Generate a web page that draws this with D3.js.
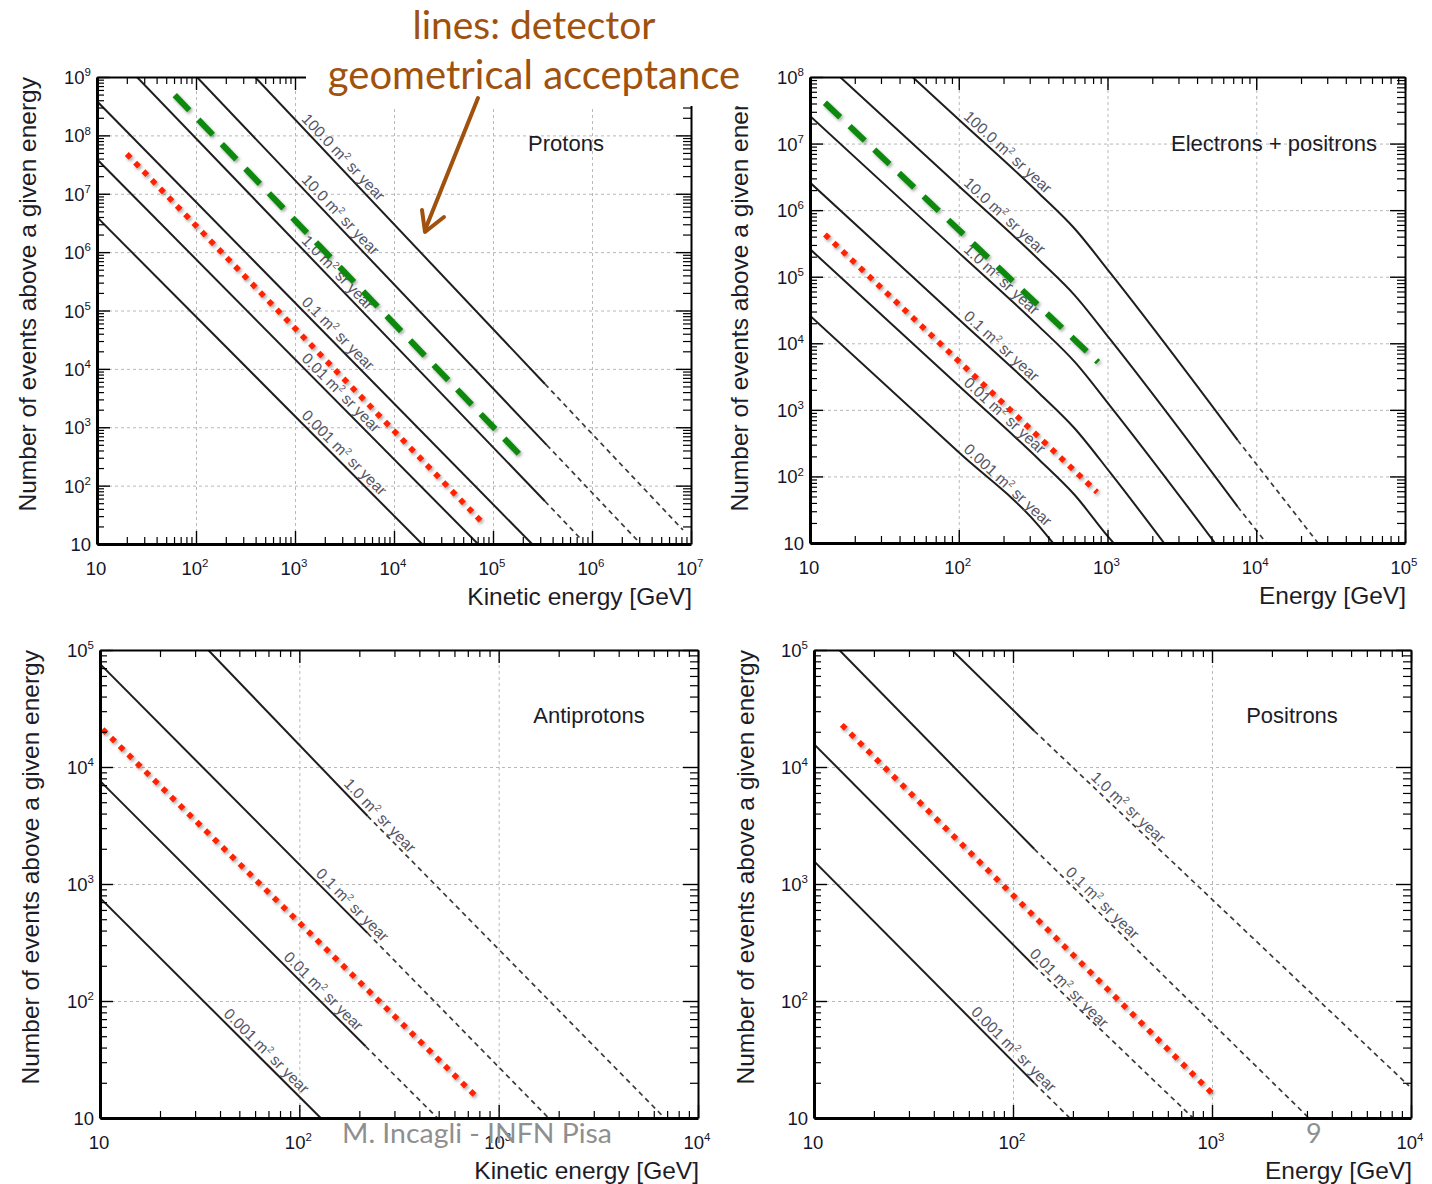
<!DOCTYPE html>
<html><head><meta charset="utf-8">
<script src="https://cdn.jsdelivr.net/npm/d3@7"></script>
<style>
body{margin:0;background:#fff;}
svg{display:block;font-family:"Liberation Sans",Arial,Helvetica,sans-serif;}
</style></head><body>
<svg id="c" width="1432" height="1184"></svg>
<script>
// ---------------- DATA ----------------
const labels6 = ["100.0","10.0","1.0","0.1","0.01","0.001"];
const labels4 = ["1.0","0.1","0.01","0.001"];

// Protons: [E (GeV), N] points per acceptance line
const protonLines = [
  [[394,1e9],[3.35e5,5.5e3],[8.3e6,17.4]],
  [[102,1e9],[3.5e5,495],[2.85e6,11.7]],
  [[25.3,1e9],[3.35e5,54],[7.9e5,11.7]],
  [[10,3.85e8],[2.48e5,10]],
  [[10,3.9e7],[7.05e4,10]],
  [[10,3.97e6],[1.92e4,10]]
];
const protonSolidEnd = [3.35e5,3.5e5,3.35e5,1e9,1e9,1e9];
const protonLabelE = [1070,1070,1070,1070,1070,1070];
const protonGreen = [[61,4.9e8],[2.1e5,274]];
const protonRed = [[20,4.8e7],[7.9e4,22.9]];

// Electrons + positrons
const electronLines = [
  [[10,2.6e9],[100,2.3e7],[350,1.75e6],[600,5.3e5],[1040,1.15e5],[7500,350],[2.6e4,10]],
  [[10,2.6e8],[100,2.3e6],[350,1.75e5],[600,5.3e4],[1040,1.15e4],[7500,35],[1.17e4,10]],
  [[10,2.6e7],[100,2.3e5],[350,1.75e4],[600,5.3e3],[1040,1.15e3],[5.28e3,10]],
  [[10,2.6e6],[100,2.3e4],[350,1.75e3],[600,530],[1040,115],[2.4e3,10]],
  [[10,2.6e5],[100,2.3e3],[350,175],[600,53],[1040,11.5],[1.1e3,10]],
  [[10,2.6e4],[100,230],[350,17.5],[430,10]]
];
const electronSolidEnd = [7500,7500,1e9,1e9,1e9,1e9];
const electronLabelE = [102,102,102,102,102,102];
const electronGreen = [[12.6,4.1e7],[865,5.2e3]];
const electronRed = [[12.6,4.3e5],[851,58]];

// Antiprotons
const antiprotonLines = [
  [[34.9,1e5],[220,3.81e3],[6.8e3,10]],
  [[10,7.6e4],[220,380],[1.78e3,10]],
  [[10,7.6e3],[215,41],[493,10]],
  [[10,760],[128,10]]
];
const antiprotonSolidEnd = [220,220,215,1e9];
const antiprotonLabelE = [160,116,80,40];
const antiprotonRed = [[10.3,2.1e4],[795,14.5]];

// Positrons
const positronLines = [
  [[49.3,1e5],[128,2.03e4],[9.77e3,18.8]],
  [[13.4,1e5],[128,1.99e3],[3.07e3,10]],
  [[10,1.57e4],[128,199],[803,10]],
  [[10,1.57e3],[128,19.9],[193,10]]
];
const positronSolidEnd = [128,128,128,128];
const positronLabelE = [236,176,116,59];
const positronRed = [[13.8,2.29e4],[1011,16]];

const titles = ["Protons","Electrons + positrons","Antiprotons","Positrons"];
const xTitles = ["Kinetic energy [GeV]","Energy [GeV]","Kinetic energy [GeV]","Energy [GeV]"];
const yTitle = "Number of events above a given energy";
const noteLines = ["lines: detector","geometrical acceptance"];
const footer = "M. Incagli - INFN Pisa";
const pageNo = "9";

// ---------------- DRAWING ----------------
const svg = d3.select("#c");
const defs = svg.append("defs");
const f = defs.append("filter").attr("id","sh").attr("x","-20%").attr("y","-20%").attr("width","140%").attr("height","140%");
f.append("feDropShadow").attr("dx",1.5).attr("dy",2).attr("stdDeviation",1.6).attr("flood-color","#000").attr("flood-opacity",0.35);

function majorVals(dom){const o=[];for(let e=Math.round(Math.log10(dom[0]));e<=Math.round(Math.log10(dom[1]));e++)o.push(Math.pow(10,e));return o;}
function minorVals(dom){const o=[];for(let e=Math.round(Math.log10(dom[0]));e<Math.round(Math.log10(dom[1]));e++)for(let k=2;k<=9;k++)o.push(k*Math.pow(10,e));return o;}

function powLabel(sel, v, fs){
  const e = Math.round(Math.log10(v));
  if(e===1){ sel.append("tspan").text("10"); return; }
  sel.append("tspan").text("10");
  sel.append("tspan").attr("dy",-fs*0.42).attr("font-size",fs*0.62).text(e);
}

function drawPanel(p, d){
  const x = d3.scaleLog().domain(p.xDom).range([p.l,p.r]);
  const y = d3.scaleLog().domain(p.yDom).range([p.b,p.t]);
  const w = p.r-p.l, h = p.b-p.t;
  const g = svg.append("g");
  const xMaj = majorVals(p.xDom), yMaj = majorVals(p.yDom);

  // grid
  g.append("g").attr("transform",`translate(0,${p.b})`)
    .call(d3.axisBottom(x).tickValues(xMaj.slice(1,-1)).tickSize(-h).tickFormat(""))
    .call(s=>{s.select(".domain").remove();s.selectAll("line").attr("stroke","#b8b8b8").attr("stroke-dasharray","3,3");});
  g.append("g").attr("transform",`translate(${p.l},0)`)
    .call(d3.axisLeft(y).tickValues(yMaj.slice(1,-1)).tickSize(-w).tickFormat(""))
    .call(s=>{s.select(".domain").remove();s.selectAll("line").attr("stroke","#b8b8b8").attr("stroke-dasharray","3,3");});

  // curves
  const cid = "clip"+p.id;
  defs.append("clipPath").attr("id",cid).append("rect").attr("x",p.l).attr("y",p.t).attr("width",w).attr("height",h);
  const lg = g.append("g").attr("clip-path",`url(#${cid})`);
  const line = d3.line().x(v=>x(v[0])).y(v=>y(v[1])).curve(d.curve||d3.curveLinear);
  d.lines.forEach((pts,i)=>{
    const se = d.solidEnd[i];
    const solid = pts.filter(v=>v[0]<=se*1.0001);
    const dashed = pts.filter(v=>v[0]>=se*0.9999);
    lg.append("path").attr("d",line(solid)).attr("fill","none").attr("stroke","#1e1e1e").attr("stroke-width",2);
    if(dashed.length>1) lg.append("path").attr("d",line(dashed)).attr("fill","none").attr("stroke","#3a3a3a").attr("stroke-width",1.7).attr("stroke-dasharray","5,4");
  });

  // labels on curves
  d.labels.forEach((lab,i)=>{
    const pts=d.lines[i], E=d.labelE[i];
    let j=0; while(j<pts.length-2 && pts[j+1][0]<E) j++;
    const a=pts[j], b=pts[j+1];
    const t=(Math.log(E)-Math.log(a[0]))/(Math.log(b[0])-Math.log(a[0]));
    const N=Math.exp(Math.log(a[1])+t*(Math.log(b[1])-Math.log(a[1])));
    const ang=Math.atan2(y(b[1])-y(a[1]), x(b[0])-x(a[0]))*180/Math.PI;
    const tx=g.append("text").attr("transform",`translate(${x(E)},${y(N)}) rotate(${ang})`)
      .attr("font-size",15.5).attr("fill","#555566");
    tx.append("tspan").attr("dy",-4).text(lab+" m");
    tx.append("tspan").attr("dy",-6).attr("font-size",9.5).text("2");
    tx.append("tspan").attr("dy",6).text(" sr year");
  });

  // highlight lines
  const hl = g.append("g").attr("clip-path",`url(#${cid})`);
  if(d.green) hl.append("path").attr("d",d3.line().x(v=>x(v[0])).y(v=>y(v[1]))(d.green))
    .attr("fill","none").attr("stroke","#108a10").attr("stroke-width",6).attr("stroke-dasharray","21,13").attr("filter","url(#sh)");
  if(d.red) hl.append("path").attr("d",d3.line().x(v=>x(v[0])).y(v=>y(v[1]))(d.red))
    .attr("fill","none").attr("stroke","#ff2200").attr("stroke-width",5.5).attr("stroke-dasharray","5.5,6.5").attr("filter","url(#sh)");

  // frame axes
  const xMin = minorVals(p.xDom), yMin = minorVals(p.yDom);
  const styl=(s,wd)=>{s.select(".domain").attr("stroke","#000").attr("stroke-width",wd);s.selectAll(".tick line").attr("stroke","#000").attr("stroke-width",1.4);};
  const noDom=s=>{s.select(".domain").remove();s.selectAll(".tick line").attr("stroke","#000").attr("stroke-width",1.2);};
  g.append("g").attr("transform",`translate(0,${p.b})`).call(d3.axisBottom(x).tickValues(xMaj).tickSizeInner(-13).tickSizeOuter(0).tickFormat("")).call(s=>styl(s,3));
  g.append("g").attr("transform",`translate(0,${p.b})`).call(d3.axisBottom(x).tickValues(xMin).tickSizeInner(-7).tickSizeOuter(0).tickFormat("")).call(noDom);
  g.append("g").attr("transform",`translate(0,${p.t})`).call(d3.axisTop(x).tickValues(xMaj).tickSizeInner(-13).tickSizeOuter(0).tickFormat("")).call(s=>styl(s,2));
  g.append("g").attr("transform",`translate(0,${p.t})`).call(d3.axisTop(x).tickValues(xMin).tickSizeInner(-7).tickSizeOuter(0).tickFormat("")).call(noDom);
  g.append("g").attr("transform",`translate(${p.l},0)`).call(d3.axisLeft(y).tickValues(yMaj).tickSizeInner(-13).tickSizeOuter(0).tickFormat("")).call(s=>styl(s,3));
  g.append("g").attr("transform",`translate(${p.l},0)`).call(d3.axisLeft(y).tickValues(yMin).tickSizeInner(-7).tickSizeOuter(0).tickFormat("")).call(noDom);
  g.append("g").attr("transform",`translate(${p.r},0)`).call(d3.axisRight(y).tickValues(yMaj).tickSizeInner(-15).tickSizeOuter(0).tickFormat("")).call(s=>styl(s,2));
  g.append("g").attr("transform",`translate(${p.r},0)`).call(d3.axisRight(y).tickValues(yMin).tickSizeInner(-8).tickSizeOuter(0).tickFormat("")).call(noDom);

  // tick labels
  const fs=18.5;
  xMaj.forEach(v=>{
    const t=g.append("text").attr("x",x(v)-1).attr("y",p.b+31).attr("text-anchor","middle").attr("font-size",fs).attr("fill","#14142a");
    powLabel(t,v,fs);
  });
  yMaj.forEach(v=>{
    const t=g.append("text").attr("x",p.l-6).attr("y",y(v)+7).attr("text-anchor","end").attr("font-size",fs).attr("fill","#14142a");
    powLabel(t,v,fs);
  });

  // titles
  g.append("text").attr("x",p.titleX).attr("y",p.titleY).attr("text-anchor",p.titleAnchor).attr("font-size",22).attr("fill","#1c1c28").text(p.title);
  g.append("text").attr("x",p.r+1).attr("y",p.b+61).attr("text-anchor","end").attr("font-size",24.5).attr("fill","#1c1c28").text(p.xTitle);
  g.append("text").attr("transform",`translate(${p.yTitleX},${p.t}) rotate(-90)`).attr("dy","0.35em").attr("text-anchor","end").attr("font-size",24.5).attr("fill","#1c1c28").text(yTitle);
}

drawPanel({id:1,l:97,r:691,t:77,b:544,xDom:[10,1e7],yDom:[10,1e9],title:titles[0],titleX:566,titleY:151,titleAnchor:"middle",xTitle:xTitles[0],yTitleX:27},
  {lines:protonLines,solidEnd:protonSolidEnd,labelE:protonLabelE,labels:labels6,green:protonGreen,red:protonRed});
drawPanel({id:2,l:810,r:1405,t:77,b:543,xDom:[10,1e5],yDom:[10,1e8],title:titles[1],titleX:1377,titleY:151,titleAnchor:"end",xTitle:xTitles[1],yTitleX:739},
  {lines:electronLines,solidEnd:electronSolidEnd,labelE:electronLabelE,labels:labels6,green:electronGreen,red:electronRed,curve:d3.curveMonotoneX});
drawPanel({id:3,l:100,r:698,t:650,b:1118,xDom:[10,1e4],yDom:[10,1e5],title:titles[2],titleX:589,titleY:723,titleAnchor:"middle",xTitle:xTitles[2],yTitleX:30},
  {lines:antiprotonLines,solidEnd:antiprotonSolidEnd,labelE:antiprotonLabelE,labels:labels4,red:antiprotonRed});
drawPanel({id:4,l:814,r:1411,t:650,b:1118,xDom:[10,1e4],yDom:[10,1e5],title:titles[3],titleX:1292,titleY:723,titleAnchor:"middle",xTitle:xTitles[3],yTitleX:745},
  {lines:positronLines,solidEnd:positronSolidEnd,labelE:positronLabelE,labels:labels4,red:positronRed});

// annotation box, text and arrow
const brown="#a0510d";
svg.append("rect").attr("x",306).attr("y",0).attr("width",450).attr("height",106).attr("fill","#fff");
svg.append("text").attr("x",534).attr("y",39).attr("text-anchor","middle").attr("font-family","Lato, 'Open Sans', sans-serif").attr("font-size",39).attr("fill",brown).text(noteLines[0]);
svg.append("text").attr("x",534).attr("y",89).attr("text-anchor","middle").attr("font-family","Lato, 'Open Sans', sans-serif").attr("font-size",40).attr("fill",brown).text(noteLines[1]);
svg.append("line").attr("x1",478).attr("y1",98).attr("x2",425).attr("y2",230).attr("stroke",brown).attr("stroke-width",4).attr("stroke-linecap","round");
svg.append("polyline").attr("points","422,210 425,232 444,217").attr("fill","none").attr("stroke",brown).attr("stroke-width",4).attr("stroke-linecap","round").attr("stroke-linejoin","round");

// footer
svg.append("text").attr("x",342).attr("y",1143).attr("font-family","Lato, 'Open Sans', sans-serif").attr("font-size",27).attr("textLength",270).attr("lengthAdjust","spacingAndGlyphs").attr("fill","#8f8f8f").text(footer);
svg.append("text").attr("x",1306).attr("y",1143).attr("font-family","Lato, 'Open Sans', sans-serif").attr("font-size",27).attr("fill","#8f8f8f").text(pageNo);
</script>
</body></html>
